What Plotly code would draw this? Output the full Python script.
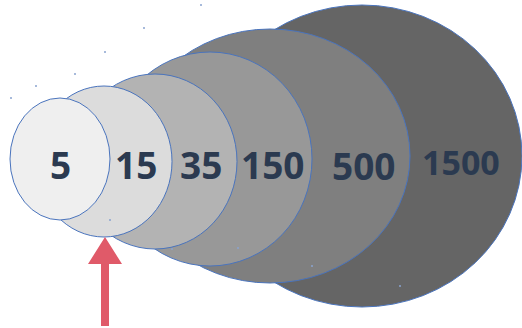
import plotly.graph_objects as go

# values shown on the nested ellipses (innermost first)
labels = ["5", "15", "35", "150", "500", "1500"]
fills = ["#efefef", "#dcdcdc", "#b3b3b3", "#989898", "#7f7f7f", "#656565"]

# ellipse geometry in pixel-like units (center x, center y, radius x, radius y)
cx = [60, 104, 155, 210, 270, 362]
cy = [159, 161.5, 161.5, 159, 156, 156]
rx = [50, 68, 82, 102, 140, 160]
ry = [61, 75.5, 87.5, 107, 127, 151]

# label anchor positions and sizes
lab_x = [60, 136, 201, 272, 363, 461]
lab_y = [164, 164, 164, 164, 165, 162]
lab_size = [37, 37, 37, 37, 37, 34]

# faint specks seen in the picture
dot_x = [11, 36, 75, 105, 144, 201, 110, 172, 238, 312, 400]
dot_y = [98, 86, 74, 52, 28, 5, 220, 249, 248, 266, 286]

W, H = 522, 328
fig = go.Figure()

# largest first so smaller ones sit on top
for i in reversed(range(len(labels))):
    fig.add_shape(
        type="circle",
        x0=cx[i] - rx[i], x1=cx[i] + rx[i],
        y0=cy[i] - ry[i], y1=cy[i] + ry[i],
        fillcolor=fills[i],
        line=dict(color="#4a74bd", width=1),
        layer="below",
    )

fig.add_trace(go.Scatter(
    x=dot_x, y=dot_y, mode="markers",
    marker=dict(size=2, color="#8aa3cf"),
    hoverinfo="skip", showlegend=False,
))

for i, t in enumerate(labels):
    fig.add_annotation(
        x=lab_x[i], y=lab_y[i], text=f"<b>{t}</b>", showarrow=False,
        font=dict(family="Open Sans, sans-serif", size=lab_size[i], color="#2b3a50"),
        xanchor="center", yanchor="middle",
    )

# red arrow pointing up at the 15 ellipse
ax, tip, base, bottom = 105, 237, 264, 326
fig.add_shape(
    type="path",
    path=(f"M {ax-4},{bottom} L {ax-4},{base} L {ax-17},{base} L {ax},{tip} "
          f"L {ax+17},{base} L {ax+4},{base} L {ax+4},{bottom} Z"),
    fillcolor="#e05a69", line=dict(width=0),
)

fig.update_layout(
    width=W, height=H,
    margin=dict(l=0, r=0, t=0, b=0),
    paper_bgcolor="white", plot_bgcolor="white",
    xaxis=dict(range=[0, W], visible=False, fixedrange=True),
    yaxis=dict(range=[H, 0], visible=False, fixedrange=True),
    showlegend=False,
)

# page body has an 8px default margin; drop it so the figure fills the window
fig.write_html(
    "out.html",
    config={"displayModeBar": False},
    post_script="document.body.style.margin='0';document.body.style.overflow='hidden';",
)
